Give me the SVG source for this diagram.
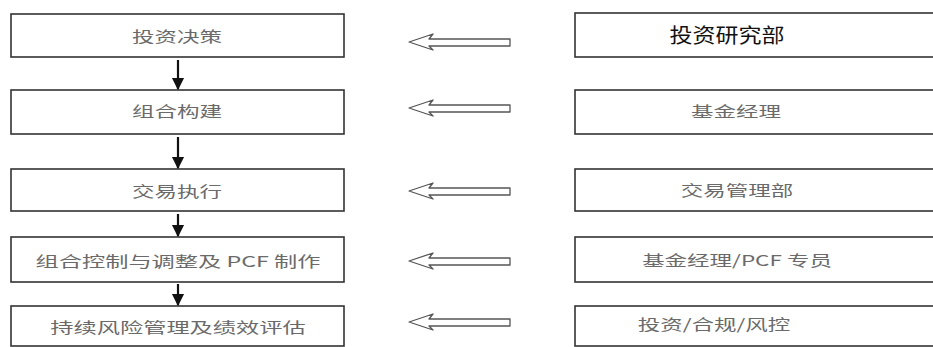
<svg xmlns="http://www.w3.org/2000/svg" width="933" height="347" viewBox="0 0 933 347">
<style>
.box{fill:#fff;stroke:#333;stroke-width:1.6}
.t{font-family:"Noto Sans CJK SC","Liberation Serif",serif;font-size:15px;fill:#6a6a6a;text-anchor:middle}
.big{font-family:"Noto Sans CJK SC","Liberation Sans",sans-serif;font-size:20px;fill:#111;text-anchor:middle}
.down{stroke:#111;stroke-width:2.2;fill:none}
.hollow{fill:#fff;stroke:#555;stroke-width:1.3;stroke-linejoin:round}
</style>
<defs>
<marker id="ah" viewBox="0 0 10 10" refX="9" refY="5" markerWidth="5.5" markerHeight="6" orient="auto" markerUnits="strokeWidth">
<path d="M0,0 L10,5 L0,10 Z" fill="#111"/>
</marker>
<path id="ha" d="M-50,0 L-26,-8 L-30,-3 L51,-3 L51,4 L-30,4 L-26,8 Z"/>
</defs>
<rect width="933" height="347" fill="#fff"/>
<g id="left1"><rect class="box" x="11" y="14" width="333" height="43"/><text class="t" transform="translate(177,42) scale(1.5,1)">投资决策</text></g>
<g id="left2"><rect class="box" x="11" y="90" width="333" height="44"/><text class="t" transform="translate(177,117) scale(1.5,1)">组合构建</text></g>
<g id="left3"><rect class="box" x="11" y="169" width="333" height="42"/><text class="t" transform="translate(177,197) scale(1.5,1)">交易执行</text></g>
<g id="left4"><rect class="box" x="11" y="237" width="333" height="45"/><text class="t" transform="translate(178,267) scale(1.55,1)">组合控制与调整及 PCF 制作</text></g>
<g id="left5"><rect class="box" x="11" y="306" width="333" height="40"/><text class="t" transform="translate(178,333) scale(1.55,1)">持续风险管理及绩效评估</text></g>
<g id="right1"><rect class="box" x="575" y="13" width="380" height="44"/><text class="big" transform="translate(727,43) scale(1.15,1)">投资研究部</text></g>
<g id="right2"><rect class="box" x="575" y="90" width="380" height="44"/><text class="t" transform="translate(736,117) scale(1.5,1)">基金经理</text></g>
<g id="right3"><rect class="box" x="575" y="169" width="380" height="42"/><text class="t" transform="translate(737,196) scale(1.5,1)">交易管理部</text></g>
<g id="right4"><rect class="box" x="575" y="237" width="380" height="45"/><text class="t" transform="translate(737,266) scale(1.5,1)">基金经理/PCF 专员</text></g>
<g id="right5"><rect class="box" x="575" y="306" width="380" height="40"/><text class="t" transform="translate(714,330) scale(1.5,1)">投资/合规/风控</text></g>
<g id="connectors">
<line class="down" x1="178" y1="60" x2="178" y2="89" marker-end="url(#ah)"/>
<line class="down" x1="178" y1="137" x2="178" y2="168" marker-end="url(#ah)"/>
<line class="down" x1="178" y1="214" x2="178" y2="236" marker-end="url(#ah)"/>
<line class="down" x1="178" y1="284" x2="178" y2="305" marker-end="url(#ah)"/>
<use href="#ha" class="hollow" x="459" y="42"/>
<use href="#ha" class="hollow" x="459" y="108"/>
<use href="#ha" class="hollow" x="459" y="191"/>
<use href="#ha" class="hollow" x="459" y="261"/>
<use href="#ha" class="hollow" x="459" y="322"/>
</g>
</svg>
